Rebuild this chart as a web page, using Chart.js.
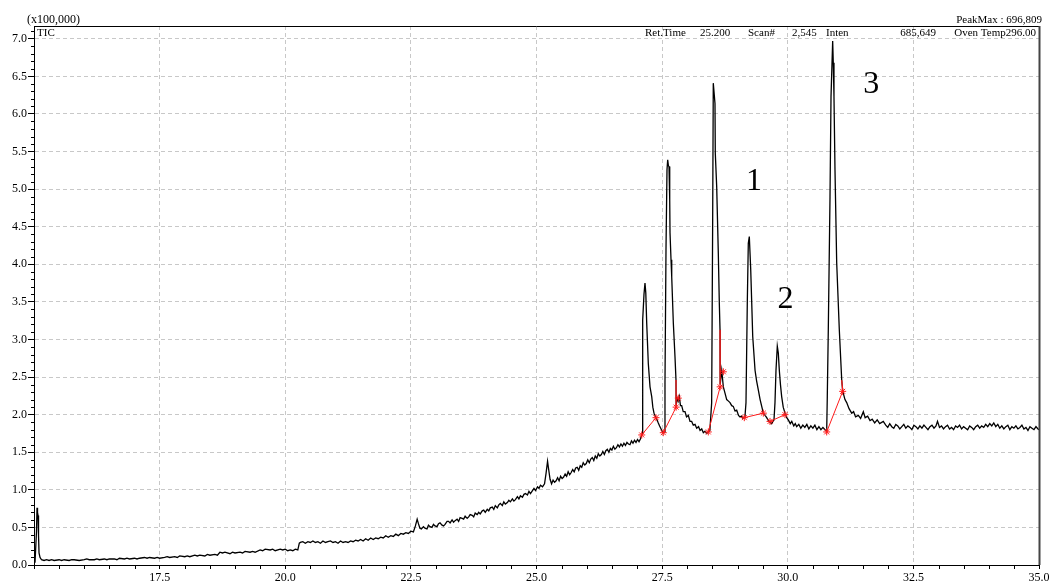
<!DOCTYPE html>
<html>
<head>
<meta charset="utf-8">
<title>TIC</title>
<script src="https://cdn.jsdelivr.net/npm/chart.js@4.4.1/dist/chart.umd.min.js"></script>
<style>
  html, body { margin: 0; padding: 0; background: #fff; }
  #wrap { width: 1049px; height: 584px; }
</style>
</head>
<body>
<div id="wrap"><canvas id="tic" width="1049" height="584"></canvas></div>
<script>
// [retention time (min), intensity (x100,000)]
const earlyTrace = [
  [15.02,0.03],[15.05,0.45],[15.06,0.76],[15.07,0.70],[15.08,0.66],[15.09,0.40],[15.10,0.16],[15.12,0.10],
  [15.15,0.07],[15.2,0.06],[15.25,0.07],[15.3,0.06],[15.35,0.07],[15.4,0.06],[15.5,0.07],[15.55,0.06],
  [15.6,0.07],[15.7,0.06],[15.75,0.07],[15.8,0.07],[15.9,0.06],[16.0,0.07],[16.05,0.08],[16.1,0.07],
  [16.2,0.07],[16.25,0.08],[16.3,0.07],[16.4,0.08],[16.45,0.07],[16.5,0.08],[16.6,0.08],[16.65,0.07],
  [16.7,0.09],[16.8,0.08],[16.85,0.09],[16.9,0.08],[17.0,0.09],[17.05,0.08],[17.1,0.09],[17.2,0.10],
  [17.25,0.09],[17.3,0.10],[17.4,0.09],[17.45,0.10],[17.5,0.09],[17.6,0.10],[17.65,0.11],[17.7,0.10],
  [17.8,0.11],[17.85,0.10],[17.9,0.12],[18.0,0.11],[18.05,0.12],[18.1,0.11],[18.2,0.13],[18.25,0.12],
  [18.3,0.13],[18.4,0.12],[18.45,0.14],[18.5,0.13],[18.6,0.14],[18.65,0.13],[18.7,0.17],[18.75,0.16],
  [18.8,0.17],[18.9,0.15],[18.95,0.17],[19.0,0.16],[19.1,0.17],[19.15,0.16],[19.2,0.18],[19.3,0.17],
  [19.35,0.18],[19.4,0.17],[19.5,0.20],[19.55,0.19],[19.6,0.21],[19.7,0.20],[19.75,0.21],[19.8,0.19],
  [19.9,0.21],[19.95,0.20],[20.0,0.21],[20.05,0.19],[20.1,0.20],[20.15,0.19],[20.2,0.21],[20.25,0.20],
  [20.28,0.29]
];

const riseTrace = [
  [20.30,0.30],[20.35,0.31],[20.40,0.29],[20.45,0.31],[20.50,0.30],[20.55,0.32],[20.60,0.30],[20.65,0.31],
  [20.70,0.29],[20.75,0.32],[20.80,0.30],[20.85,0.31],[20.90,0.32],[20.95,0.30],[21.00,0.31],[21.05,0.29],
  [21.10,0.32],[21.15,0.30],[21.20,0.31],[21.25,0.30],[21.30,0.32],[21.35,0.31],[21.40,0.33],[21.45,0.32],
  [21.50,0.34],[21.55,0.32],[21.60,0.35],[21.65,0.33],[21.70,0.36],[21.75,0.34],[21.80,0.36],[21.85,0.35],
  [21.90,0.37],[21.95,0.36],[22.00,0.39],[22.05,0.37],[22.10,0.39],[22.15,0.38],[22.20,0.41],[22.25,0.39],
  [22.30,0.42],[22.35,0.41],[22.40,0.43],[22.45,0.42],[22.50,0.45],[22.55,0.44],[22.59,0.52],[22.625,0.61],
  [22.65,0.55],[22.68,0.49],[22.71,0.48],
  [22.75,0.51],[22.78,0.49],[22.82,0.48],[22.85,0.53],[22.88,0.51],[22.92,0.50],[22.95,0.54],[22.98,0.52],
  [23.02,0.51],[23.05,0.55],[23.08,0.56],[23.12,0.53],[23.15,0.52],[23.18,0.54],[23.22,0.58],[23.25,0.58],
  [23.28,0.56],[23.32,0.60],[23.35,0.57],[23.38,0.59],[23.42,0.61],[23.45,0.58],[23.48,0.63],[23.52,0.62],
  [23.55,0.61],[23.58,0.65],[23.62,0.62],[23.65,0.64],[23.68,0.67],[23.72,0.66],[23.75,0.64],[23.78,0.69],
  [23.82,0.67],[23.85,0.70],[23.88,0.68],[23.92,0.72],[23.95,0.73],[23.98,0.70],[24.02,0.74],[24.05,0.72],
  [24.08,0.76],[24.12,0.77],[24.15,0.74],[24.18,0.79],[24.22,0.76],[24.25,0.80],[24.28,0.82],[24.32,0.79],
  [24.35,0.84],[24.38,0.81],[24.42,0.83],[24.45,0.86],[24.48,0.84],[24.52,0.88],[24.55,0.85],[24.58,0.87],
  [24.62,0.91],[24.65,0.88],[24.68,0.92],[24.72,0.90],[24.75,0.94],[24.78,0.95],[24.82,0.93],[24.85,0.98],
  [24.88,0.95],[24.92,0.99],[24.95,1.02],[24.98,0.99],[25.02,1.04],[25.05,1.02],[25.08,1.06],[25.12,1.04],
  [25.16,1.08],[25.19,1.22],[25.22,1.38],[25.24,1.28],[25.27,1.14],
  [25.30,1.08],[25.33,1.13],[25.36,1.10],[25.39,1.12],[25.42,1.16],[25.45,1.12],[25.48,1.18],[25.51,1.15],
  [25.54,1.17],[25.57,1.21],[25.60,1.18],[25.63,1.24],[25.66,1.20],[25.69,1.23],[25.72,1.27],[25.75,1.24],
  [25.78,1.29],[25.81,1.30],[25.84,1.26],[25.87,1.32],[25.90,1.30],[25.93,1.36],[25.96,1.33],[25.99,1.35],
  [26.02,1.40],[26.05,1.36],[26.08,1.41],[26.11,1.43],[26.14,1.39],[26.17,1.45],[26.20,1.42],[26.23,1.48],
  [26.26,1.45],[26.29,1.47],[26.32,1.51],[26.35,1.47],[26.38,1.52],[26.41,1.54],[26.44,1.50],[26.47,1.55],
  [26.50,1.53],[26.53,1.58],[26.56,1.54],[26.59,1.56],[26.62,1.60],[26.65,1.57],[26.68,1.61],[26.71,1.58],
  [26.74,1.62],[26.77,1.59],[26.80,1.63],[26.83,1.61],[26.86,1.60],[26.89,1.65],[26.92,1.62],[26.95,1.66],
  [26.98,1.63],[27.01,1.67],[27.04,1.64],[27.07,1.68]
];

const peakTrace = [
  // peak at 27.16
  [27.094,1.73],[27.108,1.75],[27.113,3.26],[27.139,3.60],[27.159,3.75],[27.175,3.62],[27.193,3.22],
  [27.225,2.68],[27.259,2.37],[27.293,2.24],[27.315,2.10],[27.338,2.02],[27.378,1.96],[27.40,1.93],
  [27.424,1.89],[27.45,1.85],[27.472,1.82],[27.50,1.78],[27.523,1.76],
  // peak at 27.61
  [27.545,1.77],[27.557,2.42],[27.577,4.19],[27.597,5.26],[27.611,5.39],[27.625,5.31],[27.637,5.30],
  [27.651,4.86],[27.657,4.42],[27.677,4.06],[27.691,3.83],[27.723,3.22],[27.756,2.77],[27.776,2.46],
  [27.779,2.12],[27.80,2.22],[27.82,2.18],[27.842,2.24],[27.865,2.12],[27.889,2.12],[27.92,2.04],
  [27.955,2.04],[27.985,1.97],[28.021,1.99],[28.055,1.91],[28.088,1.91],[28.12,1.86],[28.155,1.87],
  [28.188,1.82],[28.225,1.84],[28.255,1.79],[28.288,1.81],[28.32,1.76],[28.353,1.78],[28.385,1.75],
  [28.419,1.77],
  // peak at 28.52
  [28.45,1.79],[28.486,2.16],[28.506,4.60],[28.518,6.41],[28.552,6.14],[28.558,5.48],[28.586,5.03],
  [28.618,4.15],[28.638,3.49],[28.652,3.13],[28.655,2.40],[28.686,2.59],[28.718,2.37],[28.75,2.29],
  [28.785,2.20],[28.82,2.18],[28.851,2.16],[28.885,2.12],[28.916,2.11],[28.95,2.05],[28.984,2.06],
  [29.02,1.99],[29.05,1.97],[29.08,1.98],[29.11,1.95],[29.135,1.96],
  // peak at 29.24
  [29.149,1.98],[29.169,2.16],[29.195,3.49],[29.215,4.28],[29.235,4.37],[29.263,3.93],[29.283,3.49],
  [29.303,3.04],[29.349,2.59],[29.38,2.45],[29.414,2.33],[29.45,2.20],[29.482,2.11],[29.514,2.02],
  [29.55,1.99],[29.581,1.96],[29.615,1.92],[29.647,1.90],[29.68,1.88],[29.705,1.91],
  // peak at 29.79
  [29.726,1.93],[29.746,2.16],[29.766,2.59],[29.792,2.91],[29.812,2.82],[29.832,2.59],[29.855,2.40],
  [29.879,2.24],[29.91,2.10],[29.945,2.02],[29.98,1.96],[30.011,1.93],[30.05,1.88],[30.08,1.91],
  [30.12,1.85],[30.15,1.88],[30.178,1.84],[30.22,1.87],[30.26,1.82],[30.30,1.86],[30.34,1.83],
  [30.38,1.87],[30.42,1.81],[30.46,1.85],[30.50,1.82],[30.54,1.86],[30.58,1.80],[30.62,1.84],
  [30.66,1.80],[30.70,1.83],[30.741,1.80],[30.775,1.78],
  // peak at 30.89 (PeakMax)
  [30.787,2.24],[30.807,3.13],[30.841,4.90],[30.861,6.23],[30.894,6.97],[30.906,6.68],[30.92,6.23],
  [30.94,5.26],[30.974,4.02],[31.026,3.13],[31.074,2.46],[31.093,2.32],[31.115,2.26],[31.139,2.20],
  [31.173,2.16],[31.22,2.08],[31.273,2.02],[31.31,2.04],[31.35,1.97],[31.404,1.99],[31.45,1.95],
  [31.504,2.04],[31.54,1.96],[31.59,1.98],[31.637,1.92],[31.68,1.94],[31.73,1.89],[31.78,1.93],
  [31.83,1.88],[31.901,1.91]
];

const tailTrace = [
  [31.95,1.86],[31.99,1.83],[32.03,1.88],[32.07,1.84],[32.11,1.82],[32.15,1.87],[32.19,1.85],[32.23,1.81],
  [32.27,1.84],[32.31,1.87],[32.35,1.82],[32.39,1.85],[32.43,1.83],[32.47,1.80],[32.51,1.86],[32.55,1.84],
  [32.59,1.81],[32.63,1.85],[32.67,1.82],[32.71,1.86],[32.75,1.83],[32.79,1.80],[32.83,1.84],[32.87,1.86],
  [32.91,1.82],[32.95,1.85],[32.98,1.91],[33.02,1.83],[33.06,1.85],[33.10,1.81],[33.14,1.84],[33.18,1.86],
  [33.22,1.81],[33.26,1.83],[33.30,1.80],[33.34,1.85],[33.38,1.83],[33.42,1.86],[33.46,1.81],[33.50,1.84],
  [33.54,1.82],[33.58,1.80],[33.62,1.85],[33.66,1.83],[33.70,1.80],[33.74,1.84],[33.78,1.86],[33.82,1.82],
  [33.86,1.85],[33.90,1.83],[33.94,1.87],[33.98,1.84],[34.02,1.88],[34.06,1.85],[34.10,1.89],[34.14,1.84],
  [34.18,1.87],[34.22,1.82],[34.26,1.85],[34.30,1.81],[34.34,1.84],[34.38,1.86],[34.42,1.80],[34.46,1.84],
  [34.50,1.82],[34.54,1.85],[34.58,1.81],[34.62,1.83],[34.66,1.86],[34.70,1.81],[34.74,1.83],[34.78,1.79],
  [34.82,1.84],[34.86,1.82],[34.90,1.80],[34.94,1.84],[34.98,1.81],[35.00,1.80]
];

// integration marks: start and end of each peak
const peakStarts = [[27.094,1.73],[27.523,1.76],[28.419,1.77],[29.135,1.96],[29.647,1.91],[30.775,1.77]];
const peakEnds   = [[27.378,1.96],[27.779,2.10],[28.655,2.37],[29.514,2.02],[29.945,2.00],[31.093,2.31]];
const extraMarks = [[27.822,2.22],[28.718,2.57]];
const cutSegments = [
  [[27.776,2.46],[27.779,2.12]],
  [[28.652,3.13],[28.655,2.40]],
  [[31.074,2.46],[31.093,2.32]]
];

const peakNumbers = ['1', '2', '3'];
const peakNumberAt = [[29.33,4.99],[29.955,3.42],[31.66,6.28]];

const yUnitLabel = '(x100,000)';
const traceLabel = 'TIC';
const peakMaxLabel = 'PeakMax : 696,809';
const infoLabels = ['Ret.Time', '25.200', 'Scan#', '2,545', 'Inten', '685,649', 'Oven Temp296.00'];

const ticTrace = [].concat(earlyTrace, riseTrace, peakTrace, tailTrace);
const toXY = pts => pts.map(p => ({ x: p[0], y: p[1] }));

const SERIF = '"Liberation Serif", "Times New Roman", serif';
const RED = '#ff1a1a';
const GRID = '#c8c8c8';

const datasets = [];
peakStarts.forEach((s, i) => {
  datasets.push({
    data: toXY([s, peakEnds[i]]),
    showLine: true,
    borderColor: RED,
    borderWidth: 1,
    pointStyle: 'star',
    pointRadius: 3.5,
    pointBorderColor: RED,
    pointBorderWidth: 1,
    order: 0
  });
});
datasets.push({
  data: toXY(extraMarks),
  showLine: false,
  pointStyle: 'star',
  pointRadius: 3.5,
  pointBorderColor: RED,
  pointBorderWidth: 1,
  order: 0
});
cutSegments.forEach(seg => {
  datasets.push({
    data: toXY(seg),
    showLine: true,
    borderColor: RED,
    borderWidth: 1.2,
    pointRadius: 0,
    order: 0
  });
});
datasets.push({
  data: toXY(ticTrace),
  showLine: true,
  borderColor: '#000',
  borderWidth: 1.3,
  pointRadius: 0,
  tension: 0,
  order: 5
});

// frame, minor ticks and the header texts
const decor = {
  id: 'decor',
  afterDraw(chart) {
    const { ctx, chartArea: a, scales: { x, y } } = chart;
    ctx.save();
    ctx.strokeStyle = '#000';
    ctx.lineWidth = 1;
    ctx.beginPath();
    for (let i = 1; i <= 71; i++) {
      if (i % 5 === 0) continue;
      const py = Math.round(y.getPixelForValue(i / 10)) + 0.5;
      ctx.moveTo(a.left - 3, py);
      ctx.lineTo(a.left, py);
    }
    for (let i = 31; i < 70; i++) {
      if (i % 5 === 0) continue;
      const px = Math.round(x.getPixelForValue(i / 2)) + 0.5;
      ctx.moveTo(px, a.bottom);
      ctx.lineTo(px, a.bottom + 4);
    }
    ctx.moveTo(a.left, a.top + 0.5);
    ctx.lineTo(a.right, a.top + 0.5);
    ctx.stroke();

    ctx.strokeStyle = '#444';
    ctx.lineWidth = 2;
    ctx.beginPath();
    ctx.moveTo(a.right + 0.5, a.top);
    ctx.lineTo(a.right + 0.5, a.bottom);
    ctx.stroke();

    ctx.fillStyle = '#000';
    ctx.textBaseline = 'alphabetic';
    ctx.font = '12px ' + SERIF;
    ctx.textAlign = 'left';
    ctx.fillText(yUnitLabel, 27, 23);

    ctx.font = '11px ' + SERIF;
    ctx.fillText(traceLabel, a.left + 3, a.top + 10);
    ctx.textAlign = 'right';
    ctx.fillText(peakMaxLabel, a.right + 3, 23);

    const infoX = [645, 700, 748, 792, 826, 936, 1036];
    infoLabels.forEach((t, i) => {
      ctx.textAlign = i >= 5 ? 'right' : 'left';
      ctx.fillText(t, infoX[i], a.top + 10);
    });

    ctx.font = '32px ' + SERIF;
    ctx.textAlign = 'center';
    peakNumbers.forEach((n, i) => {
      const p = peakNumberAt[i];
      ctx.fillText(n, x.getPixelForValue(p[0]), y.getPixelForValue(p[1]));
    });
    ctx.restore();
  }
};

new Chart(document.getElementById('tic'), {
  type: 'scatter',
  data: { datasets },
  options: {
    responsive: false,
    animation: false,
    layout: { padding: { top: 26, right: 10, left: 0, bottom: 0 } },
    plugins: { legend: { display: false }, tooltip: { enabled: false } },
    scales: {
      x: {
        type: 'linear',
        min: 15,
        max: 35,
        ticks: {
          stepSize: 2.5,
          autoSkip: false,
          maxRotation: 0,
          padding: 2,
          color: '#000',
          font: { family: SERIF, size: 12 },
          callback: v => (v === 15 ? '' : v.toFixed(1))
        },
        grid: { color: GRID, tickColor: '#000', tickLength: 4 },
        border: { color: '#000', width: 1, dash: [4, 3] },
        afterFit(s) { s.height = 19; s.paddingLeft = 0; s.paddingRight = 0; }
      },
      y: {
        type: 'linear',
        min: 0,
        max: 7.17,
        ticks: {
          stepSize: 0.5,
          includeBounds: false,
          autoSkip: false,
          padding: 1,
          color: '#000',
          font: { family: SERIF, size: 12 },
          callback: v => v.toFixed(1)
        },
        grid: { color: GRID, tickColor: '#000', tickLength: 6 },
        border: { color: '#000', width: 1, dash: [4, 3] },
        afterFit(s) { s.width = 34; s.paddingTop = 0; s.paddingBottom = 0; }
      }
    }
  },
  plugins: [decor]
});
</script>
</body>
</html>
